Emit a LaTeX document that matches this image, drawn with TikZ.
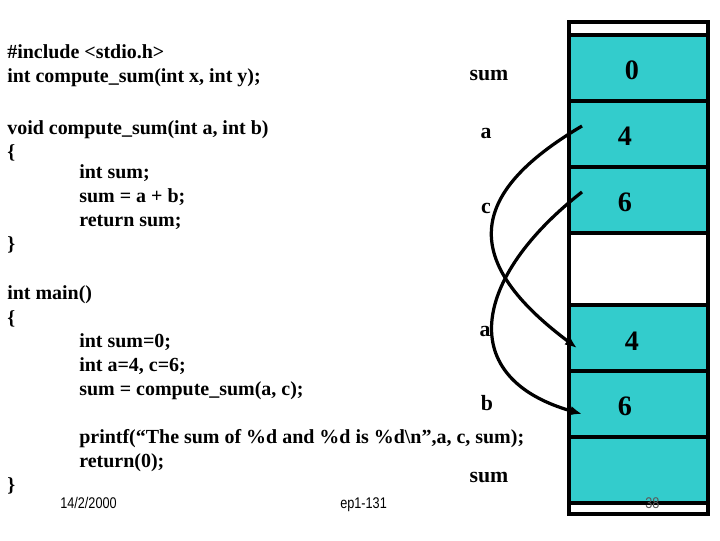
\documentclass[tikz,border=0pt]{standalone}
\usepackage{fontspec}
\setmainfont{Liberation Serif}
\newfontfamily\narrowsans[FakeStretch=0.82]{Liberation Sans}
\usetikzlibrary{arrows.meta,positioning}
\definecolor{memcyan}{RGB}{51,204,204}

\begin{document}
\begin{tikzpicture}[x=0.025cm,y=-0.025cm,>=Latex]
  \tikzstyle{code}=[anchor=base west,inner sep=0pt,font=\fontsize{14.2}{17}\selectfont\bfseries]
  \tikzstyle{var}=[anchor=base,inner sep=0pt,font=\fontsize{15.5}{18}\selectfont\bfseries]
  \tikzstyle{cell}=[draw,line width=2.4pt,fill=memcyan,outer sep=0pt,minimum width=3.475cm,minimum height=1.65cm]
  \tikzstyle{val}=[inner sep=0pt,font=\fontsize{20}{24}\selectfont\bfseries]
  \tikzstyle{foot}=[anchor=base west,inner sep=0pt,font=\narrowsans\fontsize{11}{13}\selectfont]
  \tikzstyle{link}=[line width=2.3pt,-{Latex[length=3mm,width=2.4mm]}]
  \useasboundingbox (0,0) rectangle (720,540);

  % source code
  \node[code] (inc) at (7,58) {\#include <stdio.h>};
  \node[code] (proto) at (7,82) {int compute\_sum(int x, int y);};
  \node[code] (fdef) at (7,134) {void compute\_sum(int a, int b)};
  \node[code] (fopen) at (7,158) {\{};
  \node[code] (fsum) at (79,178) {int sum;};
  \node[code] (fadd) at (79,202) {sum = a + b;};
  \node[code] (fret) at (79,226) {return sum;};
  \node[code] (fclose) at (7,250) {\}};
  \node[code] (mdef) at (7,299) {int main()};
  \node[code] (mopen) at (7,324) {\{};
  \node[code] (minit) at (79,347) {int sum=0;};
  \node[code] (mvars) at (79,371) {int a=4, c=6;};
  \node[code] (mcall) at (79,395) {sum = compute\_sum(a, c);};
  \node[code] (mprint) at (79,443) {printf(“The sum of \%d and \%d is \%d\textbackslash n”,a, c, sum);};
  \node[code] (mret) at (79,467) {return(0);};
  \node[code] (mclose) at (7,491) {\}};

  % variable names
  \node[var] (lsum) at (489,80) {sum};
  \node[var] (la) at (486,138) {a};
  \node[var] (lc) at (486,213) {c};
  \node[var] (lpa) at (485,336) {a};
  \node[var] (lpb) at (487,410) {b};
  \node[var] (lpsum) at (489,482) {sum};

  % memory
  \node[cell] (msum) at (638.5,68) {};
  \node[cell,below=0pt of msum] (ma) {};
  \node[cell,below=0pt of ma] (mc) {};
  \node[cell,fill=white,minimum height=1.8cm,below=0pt of mc] (gap) {};
  \node[cell,below=0pt of gap] (pa) {};
  \node[cell,below=0pt of pa] (pb) {};
  \node[cell,below=0pt of pb] (psum) {};
  \draw[line width=2.6pt] (569,22) rectangle (708,514);

  \node[val] (vsum) at (632,70) {0};
  \node[val] (va) at (625,136) {4};
  \node[val] (vc) at (625,202) {6};
  \node[val] (vpa) at (632,341) {4};
  \node[val] (vpb) at (625,406) {6};

  % parameter passing
  \coordinate (fromA) at (582,126);
  \coordinate (fromC) at (582,192);
  \coordinate (toA) at (577,348);
  \coordinate (toB) at (582,414);
  \draw[link] (fromA) .. controls (465,195) and (462,262) .. (toA);
  \draw[link] (fromC) .. controls (472,278) and (455,378) .. (toB);

  % footer
  \node[foot] (date) at (60,508) {14/2/2000};
  \node[foot] (course) at (340,508) {ep1-131};
  \node[foot,text=black!65] (page) at (645,508) {38};
\end{tikzpicture}
\end{document}
